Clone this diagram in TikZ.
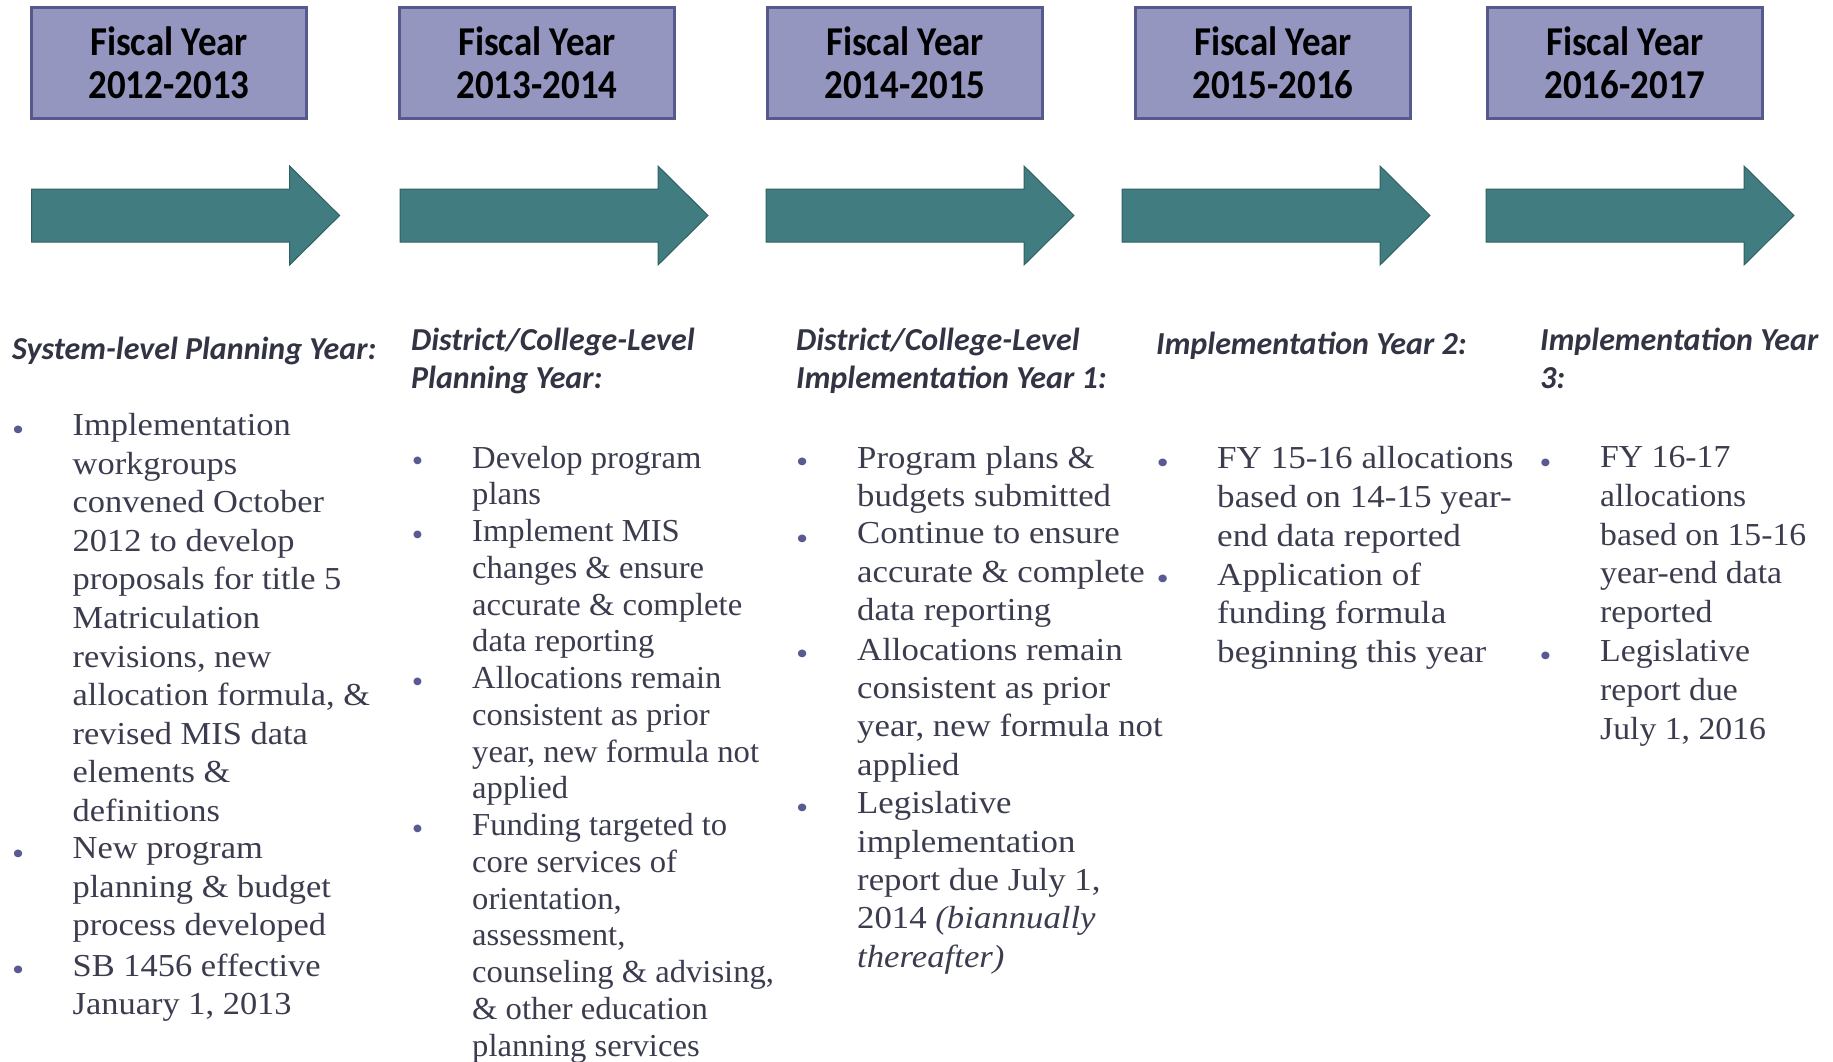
\documentclass[tikz,border=0pt]{standalone}
\usepackage{fontspec}
\setmainfont{Liberation Serif}
\newfontfamily\headfont{Carlito}
\newfontfamily\yearface{Carlito}[FakeStretch=0.9]
\newfontfamily\bodyA{Liberation Serif}[FakeStretch=1.076]
\newfontfamily\bodyB{Liberation Serif}[FakeStretch=1.02]
\newfontfamily\bodyC{Liberation Serif}[FakeStretch=1.086]
\newfontfamily\bodyD{Liberation Serif}[FakeStretch=1.097]
\newfontfamily\bodyE{Liberation Serif}[FakeStretch=1.054]
\usetikzlibrary{positioning}

\definecolor{boxfill}{RGB}{148,150,192}
\definecolor{boxline}{RGB}{86,89,142}
\definecolor{arrowfill}{RGB}{65,125,128}
\definecolor{arrowline}{RGB}{47,97,99}
\definecolor{bodytext}{RGB}{59,61,79}
\definecolor{headtext}{RGB}{50,52,68}
\definecolor{dotcol}{RGB}{88,90,145}

\newcommand{\yearfont}{\yearface\bfseries\fontsize{41}{43}\selectfont}
\newcommand{\phasefont}{\headfont\bfseries\itshape\fontsize{32}{37.4}\selectfont}

\begin{document}
\begin{tikzpicture}[x=1pt,y=-1pt,
  yearbox/.style={draw=boxline, fill=boxfill, line width=3pt, minimum width=275pt,
    minimum height=111pt, inner sep=0pt, align=center, font=\yearfont},
  bigarrow/.style={fill=arrowfill, draw=arrowline, line width=1pt},
  phase/.style={anchor=north west, inner sep=0pt, align=left, text=headtext,
    font=\phasefont, execute at begin node=\strut},
  itemtext/.style={anchor=north west, inner sep=0pt, align=left, text=bodytext,
    execute at begin node=\strut},
  bulletdot/.style={anchor=north west, inner sep=0pt, text=dotcol,
    execute at begin node=\strut}]

 \useasboundingbox (0,0) rectangle (1833,1061);

 % fiscal years
 \foreach \i/\x/\yr in {1/169/2012-2013, 2/537/2013-2014, 3/905/2014-2015,
                        4/1273/2015-2016, 5/1625/2016-2017} {
   \node[yearbox] (fy\i) at (\x,62.5) {Fiscal Year\\\yr};
 }

 % arrows
 \foreach \x in {31.6, 400, 766, 1122, 1486} {
   \draw[bigarrow] (\x,189) -- ({\x+258},189) -- ({\x+258},166) -- ({\x+308},215.5)
     -- ({\x+258},265) -- ({\x+258},242) -- (\x,242) -- cycle;
 }

 % phase titles
 \node[phase] (ph1) at (12,333) {System-level Planning Year:};
 \node[phase] (ph2) at (411,328) {District/College-Level\\Planning Year:};
 \node[phase] (ph3) at (796,328) {District/College-Level\\Implementation Year 1:};
 \node[phase] (ph4) at (1156,328) {Implementation Year 2:};
 \node[phase] (ph5) at (1540,328) {Implementation Year\\3:};

 % column 1
 \def\dx{12}
 \def\dy{413}
 \def\dl{38.6}
 \def\colfont{\bodyA\fontsize{32}{38.6}\selectfont}
 \foreach \k/\txt in {0/{Implementation\\workgroups\\convened October\\2012 to develop\\proposals for title 5\\Matriculation\\revisions, new\\allocation formula, \&\\revised MIS data\\elements \&\\definitions},
                      11/{New program\\planning \& budget\\process developed},
                      14/{SB 1456 effective\\January 1, 2013}} {
   \node[bulletdot, font=\colfont] (a\k) at (\dx,\dy+\k*\dl) {•};
   \node[itemtext, font=\colfont] (ta\k) at (\dx+60.5,\dy+\k*\dl) {\txt};
 }

 % column 2
 \def\dx{411.6}
 \def\dy{445.6}
 \def\dl{36.75}
 \def\colfont{\bodyB\fontsize{32}{36.75}\selectfont}
 \foreach \k/\txt in {0/{Develop program\\plans},
                      2/{Implement MIS\\changes \& ensure\\accurate \& complete\\data reporting},
                      6/{Allocations remain\\consistent as prior\\year, new formula not\\applied},
                      10/{Funding targeted to\\core services of\\orientation,\\assessment,\\counseling \& advising,\\\& other education\\planning services}} {
   \node[bulletdot, font=\colfont] (b\k) at (\dx,\dy+\k*\dl) {•};
   \node[itemtext, font=\colfont] (tb\k) at (\dx+60.4,\dy+\k*\dl) {\txt};
 }

 % column 3
 \def\dx{796}
 \def\dy{445.6}
 \def\dl{38.4}
 \def\colfont{\bodyC\fontsize{32}{38.4}\selectfont}
 \foreach \k/\txt in {0/{Program plans \&\\budgets submitted},
                      2/{Continue to ensure\\accurate \& complete\\data reporting},
                      5/{Allocations remain\\consistent as prior\\year, new formula not\\applied},
                      9/{Legislative\\implementation\\report due July 1,\\2014 \textit{(biannually}\\\textit{thereafter)}}} {
   \node[bulletdot, font=\colfont] (c\k) at (\dx,\dy+\k*\dl) {•};
   \node[itemtext, font=\colfont] (tc\k) at (\dx+61,\dy+\k*\dl) {\txt};
 }

 % column 4
 \def\dx{1156.5}
 \def\dy{446.5}
 \def\dl{38.6}
 \def\colfont{\bodyD\fontsize{32}{38.6}\selectfont}
 \foreach \k/\txt in {0/{FY 15-16 allocations\\based on 14-15 year-\\end data reported},
                      3/{Application of\\funding formula\\beginning this year}} {
   \node[bulletdot, font=\colfont] (d\k) at (\dx,\dy+\k*\dl) {•};
   \node[itemtext, font=\colfont] (td\k) at (\dx+60.5,\dy+\k*\dl) {\txt};
 }

 % column 5
 \def\dx{1539.5}
 \def\dy{446.5}
 \def\dl{38.6}
 \def\colfont{\bodyE\fontsize{32}{38.6}\selectfont}
 \foreach \k/\txt in {0/{FY 16-17\\allocations\\based on 15-16\\year-end data\\reported},
                      5/{Legislative\\report due\\July 1, 2016}} {
   \node[bulletdot, font=\colfont] (e\k) at (\dx,\dy+\k*\dl) {•};
   \node[itemtext, font=\colfont] (te\k) at (\dx+60.5,\dy+\k*\dl) {\txt};
 }

\end{tikzpicture}
\end{document}
